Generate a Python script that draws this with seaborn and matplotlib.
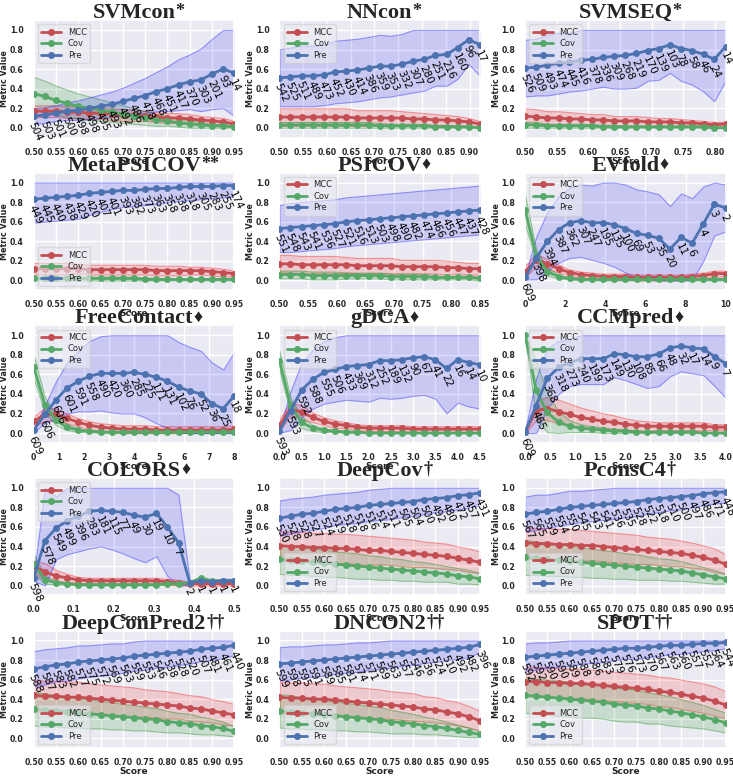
import numpy as np
import pandas as pd
import matplotlib
matplotlib.use("Agg")
import matplotlib.pyplot as plt
import seaborn as sns

# ---------------- data ----------------
X_STD = [0.500,0.525,0.550,0.575,0.600,0.625,0.650,0.675,0.700,0.725,0.750,0.775,0.800,0.825,0.850,0.875,0.900,0.925,0.950]

# SVMcon
SVMCON_N = [504,503,501,500,498,498,495,493,492,486,478,468,451,417,370,303,201,93,14]
SVMCON_PRE = [0.12,0.13,0.15,0.17,0.18,0.20,0.22,0.24,0.27,0.30,0.33,0.37,0.40,0.44,0.47,0.49,0.55,0.60,0.56]
SVMCON_PRE_SD = [0.08,0.08,0.08,0.09,0.10,0.11,0.12,0.13,0.14,0.16,0.18,0.20,0.23,0.26,0.28,0.32,0.36,0.40,0.44]
SVMCON_MCC = [0.17,0.17,0.17,0.16,0.16,0.15,0.15,0.14,0.13,0.13,0.12,0.11,0.10,0.10,0.09,0.08,0.07,0.06,0.04]
SVMCON_MCC_SD = [0.06,0.06,0.06,0.06,0.06,0.06,0.06,0.06,0.06,0.06,0.05,0.05,0.05,0.05,0.05,0.04,0.04,0.04,0.03]
SVMCON_COV = [0.35,0.32,0.28,0.25,0.22,0.20,0.18,0.16,0.14,0.12,0.10,0.08,0.07,0.05,0.04,0.03,0.02,0.02,0.01]
SVMCON_COV_SD = [0.17,0.16,0.15,0.14,0.13,0.12,0.11,0.10,0.09,0.08,0.07,0.06,0.05,0.04,0.04,0.03,0.02,0.02,0.01]

# NNcon
NNCON_X = [0.500,0.523,0.547,0.570,0.594,0.617,0.641,0.664,0.688,0.711,0.734,0.758,0.781,0.805,0.828,0.852,0.875,0.898,0.922]
NNCON_N = [542,525,511,489,473,452,430,414,386,359,353,332,307,280,251,216,160,96,17]
NNCON_PRE = [0.51,0.52,0.53,0.53,0.54,0.57,0.58,0.59,0.61,0.63,0.63,0.65,0.68,0.70,0.74,0.75,0.82,0.90,0.85]
NNCON_PRE_SD = [0.29,0.30,0.31,0.31,0.31,0.32,0.32,0.32,0.32,0.32,0.31,0.31,0.32,0.32,0.31,0.32,0.32,0.25,0.32]
NNCON_MCC = [0.11,0.11,0.11,0.11,0.11,0.11,0.11,0.10,0.10,0.10,0.10,0.10,0.09,0.09,0.08,0.08,0.07,0.06,0.04]
NNCON_MCC_SD = [0.09,0.09,0.09,0.09,0.09,0.09,0.09,0.08,0.08,0.08,0.08,0.07,0.07,0.06,0.06,0.05,0.05,0.04,0.03]
NNCON_COV = [0.03,0.03,0.03,0.03,0.03,0.03,0.03,0.03,0.03,0.02,0.02,0.02,0.02,0.02,0.01,0.01,0.01,0.01,0.00]
NNCON_COV_SD = [0.03,0.03,0.03,0.03,0.03,0.03,0.03,0.03,0.03,0.03,0.02,0.02,0.02,0.02,0.02,0.02,0.01,0.01,0.01]

# SVMSEQ
SVMSEQ_X = [0.500,0.518,0.535,0.553,0.570,0.588,0.606,0.623,0.641,0.658,0.676,0.694,0.711,0.729,0.746,0.764,0.782,0.799,0.817]
SVMSEQ_N = [526,509,493,474,445,416,378,336,309,268,219,170,139,103,78,58,46,24,14]
SVMSEQ_PRE = [0.61,0.62,0.64,0.66,0.67,0.69,0.70,0.72,0.73,0.74,0.76,0.79,0.81,0.85,0.81,0.79,0.75,0.70,0.83]
SVMSEQ_PRE_SD = [0.29,0.29,0.31,0.31,0.30,0.31,0.30,0.30,0.33,0.34,0.35,0.31,0.32,0.29,0.33,0.35,0.38,0.43,0.35]
SVMSEQ_MCC = [0.12,0.11,0.10,0.10,0.09,0.09,0.08,0.08,0.07,0.07,0.07,0.06,0.06,0.06,0.05,0.05,0.04,0.03,0.04]
SVMSEQ_MCC_SD = [0.08,0.08,0.07,0.07,0.07,0.06,0.06,0.06,0.05,0.05,0.05,0.05,0.04,0.04,0.04,0.03,0.03,0.03,0.02]
SVMSEQ_COV = [0.03,0.03,0.02,0.02,0.02,0.02,0.02,0.01,0.01,0.01,0.01,0.01,0.01,0.01,0.01,0.01,0.01,0.00,0.00]
SVMSEQ_COV_SD = [0.03,0.03,0.02,0.02,0.02,0.02,0.02,0.02,0.02,0.01,0.01,0.01,0.01,0.01,0.01,0.01,0.01,0.01,0.01]

# MetaPSICOV
META_N = [449,445,440,438,429,420,407,401,393,382,373,363,358,338,318,305,283,255,174]
META_PRE = [0.83,0.84,0.85,0.86,0.87,0.89,0.90,0.91,0.92,0.92,0.93,0.94,0.94,0.95,0.96,0.96,0.96,0.97,0.97]
META_PRE_SD = [0.24,0.24,0.24,0.24,0.24,0.22,0.20,0.18,0.17,0.16,0.16,0.16,0.14,0.14,0.14,0.13,0.12,0.12,0.11]
META_MCC = [0.12,0.12,0.12,0.12,0.12,0.11,0.11,0.11,0.11,0.11,0.11,0.10,0.10,0.10,0.10,0.10,0.09,0.08,0.07]
META_MCC_SD = [0.06,0.06,0.06,0.06,0.05,0.05,0.05,0.05,0.05,0.05,0.05,0.05,0.05,0.05,0.04,0.04,0.04,0.04,0.03]
META_COV = [0.02,0.02,0.02,0.02,0.02,0.02,0.02,0.02,0.02,0.02,0.01,0.01,0.01,0.01,0.01,0.01,0.01,0.01,0.01]
META_COV_SD = [0.02,0.02,0.02,0.02,0.02,0.02,0.02,0.02,0.02,0.02,0.02,0.02,0.01,0.01,0.01,0.01,0.01,0.01,0.01]

# PSICOV
PSICOV_X = [0.500,0.519,0.539,0.558,0.578,0.597,0.617,0.636,0.656,0.675,0.694,0.714,0.733,0.753,0.772,0.792,0.811,0.831,0.850]
PSICOV_N = [551,548,543,541,536,527,521,516,513,503,498,490,482,474,466,456,447,437,428]
PSICOV_PRE = [0.53,0.54,0.55,0.56,0.57,0.58,0.60,0.61,0.62,0.63,0.64,0.65,0.66,0.67,0.68,0.69,0.70,0.71,0.72]
PSICOV_PRE_SD = [0.24,0.25,0.25,0.25,0.25,0.25,0.25,0.25,0.25,0.25,0.25,0.25,0.25,0.25,0.25,0.25,0.25,0.25,0.25]
PSICOV_MCC = [0.17,0.17,0.16,0.16,0.16,0.16,0.16,0.15,0.15,0.15,0.15,0.14,0.14,0.14,0.14,0.13,0.13,0.12,0.12]
PSICOV_MCC_SD = [0.09,0.09,0.09,0.09,0.09,0.09,0.08,0.08,0.08,0.08,0.08,0.07,0.07,0.07,0.07,0.07,0.06,0.06,0.06]
PSICOV_COV = [0.06,0.06,0.06,0.05,0.05,0.05,0.05,0.05,0.05,0.05,0.04,0.04,0.04,0.04,0.03,0.03,0.03,0.03,0.02]
PSICOV_COV_SD = [0.04,0.04,0.04,0.04,0.04,0.04,0.03,0.03,0.03,0.03,0.03,0.03,0.03,0.03,0.02,0.02,0.02,0.02,0.02]

# EVfold
EVFOLD_X = [0.00,0.56,1.11,1.67,2.22,2.78,3.33,3.89,4.44,5.00,5.56,6.11,6.67,7.22,7.78,8.33,8.89,9.44,10.00]
EVFOLD_N = [609,398,394,387,362,307,247,195,135,100,69,53,35,20,11,6,4,3,2]
EVFOLD_PRE = [0.03,0.23,0.40,0.52,0.59,0.61,0.59,0.59,0.57,0.53,0.48,0.46,0.43,0.32,0.44,0.38,0.58,0.78,0.74]
EVFOLD_PRE_SD = [0.02,0.22,0.30,0.34,0.36,0.37,0.38,0.41,0.43,0.45,0.45,0.45,0.45,0.44,0.45,0.46,0.38,0.32,0.24]
EVFOLD_MCC = [0.09,0.21,0.17,0.12,0.08,0.06,0.05,0.04,0.04,0.04,0.03,0.03,0.03,0.03,0.03,0.04,0.05,0.07,0.07]
EVFOLD_MCC_SD = [0.06,0.06,0.05,0.04,0.03,0.03,0.03,0.03,0.03,0.03,0.03,0.03,0.03,0.03,0.03,0.03,0.03,0.03,0.03]
EVFOLD_COV = [0.72,0.25,0.09,0.04,0.02,0.01,0.01,0.01,0.01,0.01,0.01,0.01,0.01,0.01,0.01,0.01,0.01,0.01,0.01]
EVFOLD_COV_SD = [0.15,0.06,0.04,0.02,0.01,0.01,0.01,0.01,0.01,0.01,0.01,0.01,0.01,0.01,0.01,0.01,0.01,0.01,0.01]

# FreeContact
FREE_X = [0.00,0.44,0.89,1.33,1.78,2.22,2.67,3.11,3.56,4.00,4.44,4.89,5.33,5.78,6.22,6.67,7.11,7.56,8.00]
FREE_N = [609,606,606,601,591,558,490,420,360,285,225,171,131,102,76,52,36,25,18]
FREE_PRE = [0.03,0.19,0.34,0.46,0.53,0.58,0.61,0.61,0.61,0.62,0.60,0.57,0.53,0.47,0.43,0.40,0.30,0.25,0.38]
FREE_PRE_SD = [0.02,0.09,0.19,0.26,0.31,0.36,0.38,0.40,0.41,0.42,0.44,0.47,0.48,0.46,0.45,0.44,0.42,0.40,0.45]
FREE_MCC = [0.12,0.19,0.19,0.15,0.11,0.08,0.06,0.05,0.04,0.04,0.04,0.03,0.03,0.03,0.03,0.03,0.03,0.03,0.04]
FREE_MCC_SD = [0.05,0.07,0.06,0.05,0.04,0.04,0.04,0.04,0.04,0.04,0.04,0.04,0.04,0.04,0.04,0.04,0.04,0.04,0.04]
FREE_COV = [0.68,0.29,0.13,0.06,0.03,0.02,0.01,0.01,0.01,0.01,0.01,0.01,0.01,0.01,0.01,0.01,0.01,0.01,0.01]
FREE_COV_SD = [0.12,0.08,0.05,0.03,0.02,0.01,0.01,0.01,0.01,0.01,0.01,0.01,0.01,0.01,0.01,0.01,0.01,0.01,0.01]

# gDCA
GDCA_X = [0.00,0.25,0.50,0.75,1.00,1.25,1.50,1.75,2.00,2.25,2.50,2.75,3.00,3.25,3.50,3.75,4.00,4.25,4.50]
GDCA_N = [593,593,592,588,555,506,433,369,312,252,189,132,90,67,41,22,16,14,10]
GDCA_PRE = [0.02,0.23,0.44,0.55,0.62,0.65,0.68,0.69,0.70,0.74,0.74,0.75,0.77,0.78,0.75,0.66,0.75,0.72,0.70]
GDCA_PRE_SD = [0.02,0.20,0.28,0.30,0.32,0.33,0.34,0.36,0.38,0.38,0.39,0.39,0.39,0.39,0.40,0.46,0.44,0.45,0.45]
GDCA_MCC = [0.08,0.25,0.21,0.16,0.12,0.09,0.08,0.06,0.05,0.05,0.05,0.05,0.04,0.04,0.04,0.04,0.04,0.04,0.04]
GDCA_MCC_SD = [0.06,0.07,0.07,0.05,0.04,0.04,0.03,0.03,0.03,0.03,0.03,0.03,0.03,0.03,0.03,0.03,0.03,0.03,0.03]
GDCA_COV = [0.74,0.28,0.11,0.05,0.03,0.02,0.01,0.01,0.00,0.00,0.00,0.00,0.00,0.00,0.00,0.00,0.00,0.00,0.00]
GDCA_COV_SD = [0.10,0.08,0.06,0.03,0.02,0.01,0.01,0.01,0.01,0.01,0.01,0.01,0.01,0.01,0.01,0.01,0.01,0.01,0.01]

# CCMpred
CCM_X = [0.00,0.22,0.44,0.67,0.89,1.11,1.33,1.56,1.78,2.00,2.22,2.44,2.67,2.89,3.11,3.33,3.56,3.78,4.00]
CCM_N = [609,465,368,318,273,240,199,173,149,130,108,85,66,48,32,17,14,9,7]
CCM_PRE = [0.01,0.28,0.56,0.67,0.72,0.76,0.76,0.76,0.81,0.80,0.78,0.78,0.81,0.87,0.89,0.87,0.86,0.78,0.71]
CCM_PRE_SD = [0.02,0.28,0.31,0.27,0.24,0.26,0.26,0.26,0.24,0.26,0.28,0.32,0.33,0.29,0.26,0.26,0.27,0.30,0.35]
CCM_MCC = [0.01,0.23,0.25,0.22,0.19,0.16,0.14,0.12,0.11,0.09,0.08,0.07,0.07,0.07,0.07,0.07,0.07,0.06,0.06]
CCM_MCC_SD = [0.01,0.10,0.12,0.12,0.11,0.10,0.09,0.08,0.07,0.06,0.05,0.05,0.04,0.04,0.04,0.04,0.04,0.03,0.03]
CCM_COV = [1.00,0.44,0.21,0.11,0.07,0.05,0.04,0.03,0.02,0.02,0.01,0.01,0.01,0.01,0.01,0.01,0.00,0.00,0.00]
CCM_COV_SD = [0.00,0.30,0.20,0.11,0.06,0.04,0.03,0.03,0.02,0.02,0.01,0.01,0.01,0.01,0.01,0.01,0.01,0.01,0.01]

# COLORS
COLORS_X = [0.000,0.028,0.056,0.083,0.111,0.139,0.167,0.194,0.222,0.250,0.278,0.306,0.333,0.361,0.389,0.417,0.444,0.472,0.500]
COLORS_N = [598,578,549,499,396,283,181,115,77,49,30,19,10,7,2,1,1,1,1]
COLORS_PRE = [0.08,0.46,0.59,0.66,0.71,0.76,0.77,0.76,0.75,0.72,0.70,0.74,0.60,0.44,0.03,0.05,0.04,0.05,0.05]
COLORS_PRE_SD = [0.03,0.54,0.32,0.34,0.36,0.38,0.37,0.39,0.42,0.44,0.46,0.44,0.50,0.49,0.02,0.02,0.02,0.02,0.02]
COLORS_MCC = [0.20,0.14,0.10,0.08,0.06,0.05,0.05,0.05,0.05,0.05,0.05,0.05,0.04,0.03,0.02,0.02,0.02,0.02,0.02]
COLORS_MCC_SD = [0.06,0.09,0.06,0.04,0.03,0.03,0.03,0.03,0.03,0.03,0.03,0.03,0.03,0.03,0.02,0.02,0.02,0.02,0.02]
COLORS_COV = [0.22,0.06,0.03,0.02,0.01,0.01,0.01,0.01,0.01,0.01,0.01,0.01,0.02,0.02,0.03,0.08,0.05,0.05,0.05]
COLORS_COV_SD = [0.10,0.04,0.02,0.01,0.01,0.01,0.01,0.01,0.01,0.01,0.01,0.01,0.01,0.01,0.01,0.01,0.01,0.01,0.01]

# DeepCov
DEEPCOV_N = [530,528,528,527,524,519,518,518,516,514,511,505,504,500,492,480,472,457,431]
DEEPCOV_PRE = [0.69,0.71,0.73,0.74,0.76,0.78,0.79,0.80,0.82,0.83,0.84,0.85,0.86,0.88,0.89,0.90,0.92,0.93,0.95]
DEEPCOV_PRE_SD = [0.18,0.18,0.17,0.17,0.17,0.16,0.16,0.16,0.16,0.16,0.16,0.15,0.15,0.15,0.14,0.14,0.14,0.13,0.13]
DEEPCOV_MCC = [0.41,0.40,0.40,0.39,0.39,0.38,0.38,0.37,0.36,0.36,0.35,0.34,0.33,0.32,0.31,0.30,0.28,0.26,0.24]
DEEPCOV_MCC_SD = [0.15,0.15,0.15,0.15,0.15,0.15,0.15,0.15,0.15,0.14,0.14,0.14,0.14,0.13,0.13,0.13,0.12,0.12,0.11]
DEEPCOV_COV = [0.27,0.26,0.25,0.24,0.23,0.22,0.21,0.20,0.19,0.18,0.17,0.16,0.15,0.14,0.13,0.12,0.10,0.09,0.07]
DEEPCOV_COV_SD = [0.15,0.15,0.14,0.14,0.14,0.13,0.13,0.13,0.12,0.12,0.11,0.11,0.10,0.10,0.09,0.08,0.08,0.07,0.06]

# PconsC4
PCONS_N = [567,565,559,554,550,545,543,541,536,535,528,522,518,510,500,497,486,471,448]
PCONS_PRE = [0.73,0.75,0.76,0.78,0.80,0.81,0.82,0.83,0.84,0.85,0.86,0.88,0.89,0.90,0.91,0.92,0.94,0.95,0.96]
PCONS_PRE_SD = [0.18,0.18,0.17,0.17,0.17,0.16,0.16,0.16,0.16,0.15,0.15,0.14,0.14,0.13,0.13,0.12,0.12,0.11,0.11]
PCONS_MCC = [0.44,0.43,0.43,0.42,0.42,0.41,0.41,0.40,0.39,0.38,0.37,0.36,0.35,0.34,0.33,0.31,0.29,0.26,0.22]
PCONS_MCC_SD = [0.16,0.16,0.16,0.16,0.16,0.16,0.15,0.15,0.15,0.15,0.15,0.14,0.14,0.14,0.13,0.13,0.12,0.12,0.10]
PCONS_COV = [0.29,0.28,0.27,0.26,0.25,0.24,0.23,0.22,0.21,0.20,0.19,0.18,0.17,0.16,0.15,0.13,0.11,0.09,0.07]
PCONS_COV_SD = [0.18,0.17,0.17,0.16,0.16,0.15,0.15,0.14,0.14,0.13,0.13,0.12,0.11,0.11,0.10,0.09,0.08,0.07,0.05]

# DeepConPred2
DCP2_N = [588,587,583,582,577,575,572,569,563,559,553,546,538,528,520,507,481,461,440]
DCP2_PRE = [0.71,0.73,0.75,0.76,0.78,0.79,0.80,0.81,0.82,0.84,0.85,0.86,0.87,0.88,0.89,0.91,0.92,0.93,0.95]
DCP2_PRE_SD = [0.18,0.18,0.17,0.17,0.17,0.16,0.16,0.16,0.15,0.15,0.15,0.14,0.14,0.13,0.13,0.12,0.12,0.11,0.10]
DCP2_MCC = [0.44,0.43,0.43,0.42,0.42,0.41,0.40,0.39,0.38,0.37,0.36,0.35,0.34,0.33,0.31,0.30,0.28,0.26,0.24]
DCP2_MCC_SD = [0.16,0.16,0.16,0.16,0.16,0.15,0.15,0.15,0.15,0.15,0.14,0.14,0.14,0.13,0.13,0.13,0.12,0.12,0.11]
DCP2_COV = [0.30,0.29,0.28,0.27,0.26,0.25,0.24,0.23,0.22,0.21,0.20,0.19,0.17,0.16,0.15,0.13,0.12,0.10,0.07]
DCP2_COV_SD = [0.17,0.17,0.16,0.16,0.15,0.15,0.14,0.14,0.13,0.13,0.12,0.12,0.11,0.10,0.10,0.09,0.08,0.07,0.05]

# DNCON2
DNCON2_N = [599,598,595,591,589,585,581,574,571,569,563,557,546,536,524,510,492,482,396]
DNCON2_PRE = [0.76,0.77,0.78,0.79,0.80,0.81,0.82,0.83,0.84,0.85,0.86,0.87,0.88,0.89,0.90,0.91,0.92,0.93,0.96]
DNCON2_PRE_SD = [0.17,0.17,0.16,0.16,0.16,0.15,0.15,0.15,0.14,0.14,0.14,0.13,0.13,0.12,0.12,0.11,0.11,0.10,0.08]
DNCON2_MCC = [0.42,0.41,0.41,0.40,0.40,0.39,0.38,0.37,0.36,0.35,0.34,0.33,0.32,0.30,0.29,0.27,0.25,0.22,0.18]
DNCON2_MCC_SD = [0.16,0.16,0.16,0.16,0.16,0.15,0.15,0.15,0.15,0.15,0.14,0.14,0.14,0.13,0.13,0.12,0.12,0.11,0.10]
DNCON2_COV = [0.28,0.27,0.26,0.25,0.24,0.23,0.22,0.21,0.20,0.19,0.17,0.16,0.15,0.13,0.12,0.10,0.08,0.06,0.04]
DNCON2_COV_SD = [0.17,0.17,0.16,0.16,0.15,0.15,0.14,0.14,0.13,0.13,0.12,0.11,0.10,0.09,0.08,0.07,0.06,0.05,0.03]

# SPOT
SPOT_N = [592,592,590,590,589,588,586,583,579,576,573,570,567,563,560,557,552,564,544]
SPOT_PRE = [0.83,0.84,0.85,0.86,0.87,0.88,0.89,0.90,0.91,0.92,0.92,0.93,0.94,0.95,0.95,0.96,0.97,0.97,0.98]
SPOT_PRE_SD = [0.14,0.14,0.13,0.13,0.13,0.12,0.12,0.12,0.11,0.11,0.11,0.10,0.10,0.09,0.09,0.08,0.08,0.07,0.06]
SPOT_MCC = [0.58,0.58,0.57,0.57,0.56,0.56,0.55,0.54,0.53,0.52,0.51,0.50,0.48,0.47,0.45,0.43,0.41,0.38,0.34]
SPOT_MCC_SD = [0.15,0.15,0.15,0.15,0.15,0.15,0.15,0.15,0.15,0.15,0.15,0.15,0.15,0.15,0.15,0.15,0.15,0.15,0.14]
SPOT_COV = [0.44,0.43,0.42,0.41,0.40,0.39,0.38,0.37,0.35,0.34,0.33,0.31,0.30,0.28,0.26,0.24,0.22,0.19,0.16]
SPOT_COV_SD = [0.18,0.18,0.18,0.18,0.18,0.18,0.17,0.17,0.17,0.17,0.16,0.16,0.15,0.15,0.14,0.13,0.12,0.11,0.10]

TICKS_095 = [0.50,0.55,0.60,0.65,0.70,0.75,0.80,0.85,0.90,0.95]
TICKS_090 = [0.50,0.55,0.60,0.65,0.70,0.75,0.80,0.85,0.90]
TICKS_080 = [0.50,0.55,0.60,0.65,0.70,0.75,0.80]
TICKS_085 = [0.50,0.55,0.60,0.65,0.70,0.75,0.80,0.85]
TICKS_EV = [0,2,4,6,8,10]
TICKS_FREE = [0,1,2,3,4,5,6,7,8]
TICKS_GDCA = [0.0,0.5,1.0,1.5,2.0,2.5,3.0,3.5,4.0,4.5]
TICKS_CCM = [0.0,0.5,1.0,1.5,2.0,2.5,3.0,3.5,4.0]
TICKS_COLORS = [0.0,0.1,0.2,0.3,0.4,0.5]
Y_TICKS = [0.0,0.2,0.4,0.6,0.8,1.0]

NAMES = ["SVMcon","NNcon","SVMSEQ","MetaPSICOV","PSICOV","EVfold","FreeContact","gDCA","CCMpred",
         "COLORS","DeepCov","PconsC4","DeepConPred2","DNCON2","SPOT"]
SUPS = ["*","*","*","**","\u2666","\u2666","\u2666","\u2666","\u2666","\u2666","\u2020","\u2020",
        "\u2020\u2020","\u2020\u2020","\u2020\u2020"]
LEGEND_LOC = ["upper left"]*3 + ["lower left"] + ["upper left"]*6 + ["lower left"]*5

panels = [
    (X_STD, SVMCON_N, SVMCON_MCC, SVMCON_MCC_SD, SVMCON_COV, SVMCON_COV_SD, SVMCON_PRE, SVMCON_PRE_SD, TICKS_095, "{:.2f}"),
    (NNCON_X, NNCON_N, NNCON_MCC, NNCON_MCC_SD, NNCON_COV, NNCON_COV_SD, NNCON_PRE, NNCON_PRE_SD, TICKS_090, "{:.2f}"),
    (SVMSEQ_X, SVMSEQ_N, SVMSEQ_MCC, SVMSEQ_MCC_SD, SVMSEQ_COV, SVMSEQ_COV_SD, SVMSEQ_PRE, SVMSEQ_PRE_SD, TICKS_080, "{:.2f}"),
    (X_STD, META_N, META_MCC, META_MCC_SD, META_COV, META_COV_SD, META_PRE, META_PRE_SD, TICKS_095, "{:.2f}"),
    (PSICOV_X, PSICOV_N, PSICOV_MCC, PSICOV_MCC_SD, PSICOV_COV, PSICOV_COV_SD, PSICOV_PRE, PSICOV_PRE_SD, TICKS_085, "{:.2f}"),
    (EVFOLD_X, EVFOLD_N, EVFOLD_MCC, EVFOLD_MCC_SD, EVFOLD_COV, EVFOLD_COV_SD, EVFOLD_PRE, EVFOLD_PRE_SD, TICKS_EV, "{:d}"),
    (FREE_X, FREE_N, FREE_MCC, FREE_MCC_SD, FREE_COV, FREE_COV_SD, FREE_PRE, FREE_PRE_SD, TICKS_FREE, "{:d}"),
    (GDCA_X, GDCA_N, GDCA_MCC, GDCA_MCC_SD, GDCA_COV, GDCA_COV_SD, GDCA_PRE, GDCA_PRE_SD, TICKS_GDCA, "{:.1f}"),
    (CCM_X, CCM_N, CCM_MCC, CCM_MCC_SD, CCM_COV, CCM_COV_SD, CCM_PRE, CCM_PRE_SD, TICKS_CCM, "{:.1f}"),
    (COLORS_X, COLORS_N, COLORS_MCC, COLORS_MCC_SD, COLORS_COV, COLORS_COV_SD, COLORS_PRE, COLORS_PRE_SD, TICKS_COLORS, "{:.1f}"),
    (X_STD, DEEPCOV_N, DEEPCOV_MCC, DEEPCOV_MCC_SD, DEEPCOV_COV, DEEPCOV_COV_SD, DEEPCOV_PRE, DEEPCOV_PRE_SD, TICKS_095, "{:.2f}"),
    (X_STD, PCONS_N, PCONS_MCC, PCONS_MCC_SD, PCONS_COV, PCONS_COV_SD, PCONS_PRE, PCONS_PRE_SD, TICKS_095, "{:.2f}"),
    (X_STD, DCP2_N, DCP2_MCC, DCP2_MCC_SD, DCP2_COV, DCP2_COV_SD, DCP2_PRE, DCP2_PRE_SD, TICKS_095, "{:.2f}"),
    (X_STD, DNCON2_N, DNCON2_MCC, DNCON2_MCC_SD, DNCON2_COV, DNCON2_COV_SD, DNCON2_PRE, DNCON2_PRE_SD, TICKS_095, "{:.2f}"),
    (X_STD, SPOT_N, SPOT_MCC, SPOT_MCC_SD, SPOT_COV, SPOT_COV_SD, SPOT_PRE, SPOT_PRE_SD, TICKS_095, "{:.2f}"),
]

# ---------------- style ----------------
sns.set_theme(style="darkgrid")
plt.rcParams["font.family"] = ["DejaVu Sans"]

LINE_COLORS = {"MCC": "#C44E52", "Cov": "#55A868", "Pre": "#4C72B0"}
BAND_COLORS = {"MCC": (1.0, 0.0, 0.0), "Cov": (0.0, 0.5, 0.0), "Pre": (0.0, 0.0, 1.0)}

fig, axes = plt.subplots(5, 3, figsize=(7.33, 7.76), dpi=100)
fig.subplots_adjust(left=0.046, right=0.99, top=0.974, bottom=0.036, wspace=0.225, hspace=0.30)

for idx, (ax, p) in enumerate(zip(axes.flat, panels)):
    x, n, mcc, mcc_sd, cov, cov_sd, pre, pre_sd, xticks, fmt = p
    x = np.asarray(x, float)
    series = [("MCC", mcc, mcc_sd), ("Cov", cov, cov_sd), ("Pre", pre, pre_sd)]
    for name, m, sd in series:
        m = np.asarray(m, float); sd = np.asarray(sd, float)
        lo = np.clip(m - sd, 0, 1); hi = np.clip(m + sd, 0, 1)
        bc = BAND_COLORS[name]
        ax.fill_between(x, lo, hi, facecolor=bc + (0.14,), edgecolor=bc + (0.35,),
                        linewidth=0.8, zorder=1)
    for name, m, sd in series:
        df = pd.DataFrame({"Score": x, "Metric Value": m})
        sns.lineplot(data=df, x="Score", y="Metric Value", ax=ax, color=LINE_COLORS[name],
                     marker="o", markersize=5, linewidth=2, markeredgewidth=0,
                     label=name, zorder=3)
    for xi, yi, ni in zip(x, pre, n):
        ax.annotate(str(ni), (xi, yi), xytext=(1.5, -3), textcoords="offset points",
                    rotation=-65, rotation_mode="anchor", ha="left", va="top",
                    fontsize=7.5, color="black", zorder=5)
    ax.set_xlim(x[0], x[-1])
    ax.set_ylim(-0.1, 1.1)
    ax.set_xticks(xticks)
    ax.set_yticks(Y_TICKS)
    ax.set_xticklabels([fmt.format(t) for t in xticks])
    ax.set_yticklabels([f"{t:.1f}" for t in Y_TICKS])
    ax.tick_params(axis="both", labelsize=5.6, pad=1.2)
    for lbl in ax.get_xticklabels() + ax.get_yticklabels():
        lbl.set_fontweight("bold")
    ax.set_xlabel("Score", fontsize=6.5, fontweight="bold", labelpad=0)
    ax.set_ylabel("Metric Value", fontsize=5.8, fontweight="bold", labelpad=0.5)
    ax.legend(loc=LEGEND_LOC[idx], fontsize=6, handlelength=2.4, borderpad=0.4,
              labelspacing=0.3, framealpha=0.6)
    t = ax.set_title(NAMES[idx], fontfamily="Liberation Serif", fontweight="bold",
                     fontsize=16, pad=1.5)
    ax.annotate(SUPS[idx], xy=(1.0, 1.0), xycoords=t, ha="left", va="top",
                fontsize=13, fontweight="bold",
                family=["Liberation Serif", "DejaVu Sans"])

fig.savefig("out.png", dpi=100)
